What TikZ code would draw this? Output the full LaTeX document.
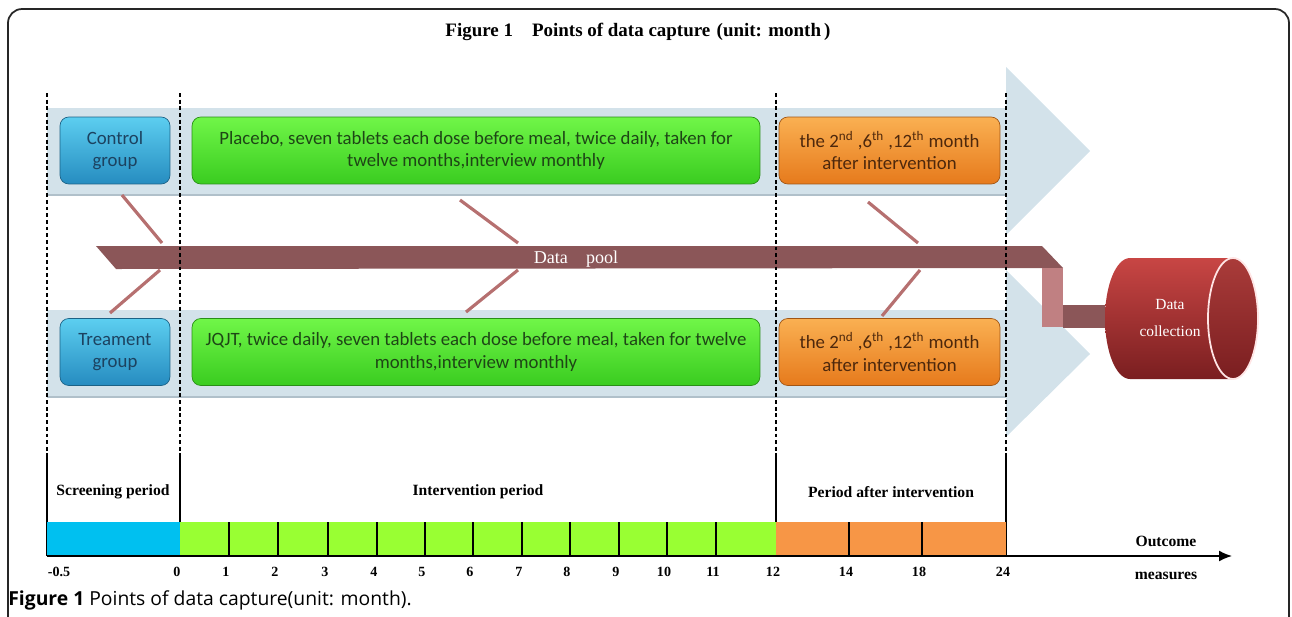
\documentclass[tikz,border=0pt]{standalone}
\usepackage{fontspec}
\setmainfont{Liberation Serif}
\newfontfamily\boxfont{Carlito}
\newfontfamily\capfont{Open Sans}
\usetikzlibrary{arrows.meta,calc,positioning}
\definecolor{bandblue}{RGB}{211,226,234}
\definecolor{bandedge}{RGB}{176,192,202}
\definecolor{grpA}{RGB}{92,206,240}
\definecolor{grpB}{RGB}{38,140,192}
\definecolor{grptext}{RGB}{28,66,96}
\definecolor{pillA}{RGB}{112,246,72}
\definecolor{pillB}{RGB}{58,204,32}
\definecolor{pilltext}{RGB}{30,70,22}
\definecolor{afterA}{RGB}{250,176,82}
\definecolor{afterB}{RGB}{230,122,28}
\definecolor{aftertext}{RGB}{78,40,12}
\definecolor{pool}{RGB}{139,86,88}
\definecolor{poollight}{RGB}{192,128,130}
\definecolor{bone}{RGB}{182,112,112}
\definecolor{drumA}{RGB}{200,70,68}
\definecolor{drumB}{RGB}{122,30,32}
\definecolor{tlblue}{RGB}{0,192,240}
\definecolor{tlgreen}{RGB}{153,255,51}
\definecolor{tlorange}{RGB}{247,150,70}
\tikzset{
  boxtext/.style={align=center,font=\boxfont\fontsize{10.7}{12.6}\selectfont,inner sep=2pt},
  groupbox/.style={boxtext,rounded corners=5pt,draw=grpB!70!black,top color=grpA,bottom color=grpB,text=grptext,minimum width=2.2cm,minimum height=1.34cm},
  pillbox/.style={boxtext,rounded corners=5pt,draw=pillB!70!black,top color=pillA,bottom color=pillB,text=pilltext,minimum width=11.36cm,minimum height=1.34cm},
  afterbox/.style={boxtext,rounded corners=5pt,draw=afterB!70!black,top color=afterA,bottom color=afterB,text=aftertext,minimum width=4.42cm,minimum height=1.34cm},
  band/.style={fill=bandblue},
  bandline/.style={draw=bandedge,line width=1.1pt},
  vdash/.style={draw=black,line width=0.7pt,dash pattern=on 2.2pt off 1.6pt},
  bone/.style={draw=bone,line width=1.8pt},
  period/.style={font=\bfseries\fontsize{8.9}{10}\selectfont,inner sep=0pt},
  ticklbl/.style={font=\bfseries\fontsize{8}{9}\selectfont,inner sep=0pt},
  axisline/.style={-{Latex[length=2.6mm,width=2.2mm]},line width=0.9pt},
}
\begin{document}
\begin{tikzpicture}[x=0.02cm,y=-0.02cm]
  \useasboundingbox (0,0) rectangle (1292,616);
  \draw[line width=1pt,rounded corners=8pt,black!85] (8,650) -- (8,9) -- (1289,9) -- (1289,650);

  \node[font=\bfseries\fontsize{10.8}{12}\selectfont] (title) at (638,32) {Figure 1\quad Points of data capture\,\,(unit: month\,)};

  % arrow bands
  \fill[band] (47,108) -- (1006,108) -- (1006,67) -- (1090,151) -- (1006,235) -- (1006,195) -- (47,195) -- cycle;
  \draw[bandline] (47,195) -- (1006,195);
  \fill[band] (47,310) -- (1006,310) -- (1006,270) -- (1090,354) -- (1006,437) -- (1006,397) -- (47,397) -- cycle;
  \draw[bandline] (47,397) -- (1006,397);

  % data pool
  \fill[pool] (96,246) -- (1042,246) -- (1063,268) -- (116,269) -- cycle;
  \fill[poollight] (1042,268) rectangle (1063,327);
  \fill[pool] (1063,305) rectangle (1105,328);
  \node[text=white,font=\fontsize{10.3}{11}\selectfont] (pool) at (576,259) {Data\quad pool};
  \foreach \ax/\ay/\bx/\by in {122/195/162/243,160/270/110/313,460/200/518/243,518/270/466/312,868/202/918/243,920/270/882/316}
    \draw[bone] (\ax,\ay) -- (\bx,\by);

  % groups
  \node[groupbox] (ctrl) at (115,150.5) {Control\\group};
  \node[pillbox] (placebo) at (476,150.5) {Placebo, seven tablets each dose before meal, twice daily, taken for\\twelve months,interview monthly};
  \node[afterbox] (ctrlafter) at (889.5,150.5) {the 2\textsuperscript{nd} ,6\textsuperscript{th} ,12\textsuperscript{th} month\\after intervention};
  \node[groupbox] (treat) at (115,352) {Treament\\group};
  \node[pillbox] (jqjt) at (476,352) {JQJT, twice daily, seven tablets each dose before meal, taken for twelve\\months,interview monthly};
  \node[afterbox] (treatafter) at (889.5,352) {the 2\textsuperscript{nd} ,6\textsuperscript{th} ,12\textsuperscript{th} month\\after intervention};

  % data collection drum
  \shade[shading angle=35,top color=drumA,bottom color=drumB] (1233,258) -- (1130,258) arc[start angle=270,end angle=90,x radius=25,y radius=60.5] -- (1233,379) arc[start angle=90,end angle=-90,x radius=25,y radius=60.5] -- cycle;
  \shade[top color=drumA!85!black,bottom color=drumB,draw=white!90!red,line width=1pt] (1233,318.5) ellipse[x radius=25,y radius=60.5];
  \node[text=white,align=center,font=\fontsize{8.8}{15.5}\selectfont] (coll) at (1170,318) {Data\\collection};

  % dividers
  \foreach \xx in {47,180,776,1006}
    \draw[vdash] (\xx,93) -- (\xx,453);
  \foreach \xx in {47,180,776,1006}
    \draw[line width=0.7pt] (\xx,453) -- (\xx,556);

  % timeline
  \fill[tlblue] (47,522) rectangle (180,556);
  \fill[tlgreen] (180,522) rectangle (776,556);
  \fill[tlorange] (776,522) rectangle (1006,556);
  \foreach \m/\xx in {1/229,2/278,3/328,4/377,5/425,6/473,7/522,8/570,9/619,10/667,11/716,14/849,18/922}
    \draw[line width=0.7pt] (\xx,522) -- (\xx,556);
  \foreach \m/\xx in {0/180,1/229,2/278,3/328,4/377,5/425,6/473,7/522,8/570,9/619,10/667,11/716,12/776,14/849,18/922,24/1006}
    \node[ticklbl] (t\m) at (\xx-3,572) {\m};
  \node[ticklbl] (tneg) at (59,572) {-0.5};
  \coordinate (axstart) at (47,556);
  \coordinate (axend) at (1232,556);
  \draw[axisline] (axstart) -- (axend);

  \node[period] (screen) at (113,492) {Screening period};
  \node[period] (interv) at (478,492) {Intervention period};
  \node[period] (afterp) at (891,492) {Period after intervention};
  \node[period] (outc) at (1166,541) {Outcome};
  \node[period] (meas) at (1166,576) {measures};

  \node[anchor=west,inner sep=0pt,font=\capfont\fontsize{11}{12}\selectfont] (caption) at (8,600) {\textbf{Figure 1} Points of data capture(unit: month).};
\end{tikzpicture}
\end{document}
